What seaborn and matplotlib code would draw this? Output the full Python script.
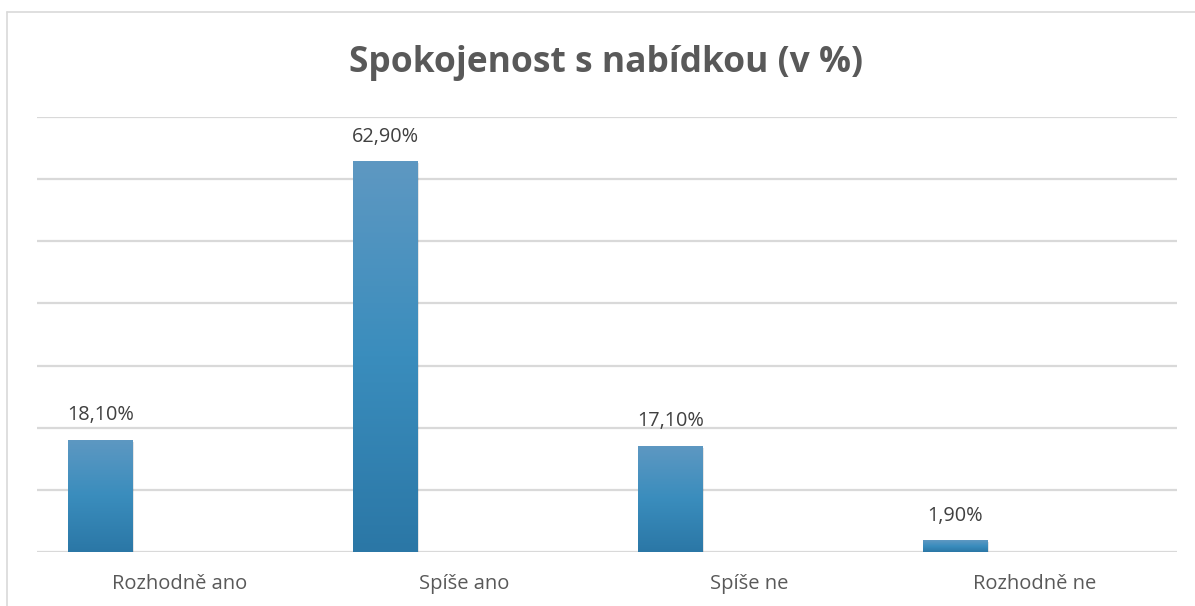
import matplotlib
matplotlib.use("Agg")
import matplotlib.pyplot as plt
import seaborn as sns
import numpy as np
import pandas as pd
from matplotlib.colors import LinearSegmentedColormap

# ~~~~~~~~~  Data  ~~~~~~~~~~~~~~~~~~~~~~~~~~~~~~~~~~~~~~~~~~~~~~~~~~~~~~~~~~~~~~~~~~~~~~~~~~~~ #
categories = ["Rozhodně ano", "Spíše ano", "Spíše ne", "Rozhodně ne"]
values = [18.1, 62.9, 17.1, 1.9]
title = "Spokojenost s nabídkou (v %)"

df = pd.DataFrame({"kategorie": categories, "procenta": values})

# ~~~~~~~~~  Plot  ~~~~~~~~~~~~~~~~~~~~~~~~~~~~~~~~~~~~~~~~~~~~~~~~~~~~~~~~~~~~~~~~~~~~~~~~~~~~ #
sns.set_style("white")
plt.rcParams["font.family"] = ["Open Sans", "DejaVu Sans"]

fig = plt.figure(figsize=(11.95, 6.06), dpi=100)
ax = fig.add_axes([37 / 1195, 1 - 552 / 606, 1140 / 1195, 435 / 606])

bar_w = 0.228     # bar width in category units
shift = -0.277    # bars sit left of the category centre (excel look)
sns.barplot(data=df, x="kategorie", y="procenta", width=bar_w, color="#3a87b5",
            ax=ax, zorder=3)

ax.set_xlim(-0.5, len(categories) - 0.5)
ax.set_ylim(0, 70)
ax.set_yticks(np.arange(0, 71, 10))
ax.yaxis.grid(True, color="#d9d9d9", linewidth=1.6, zorder=0)
ax.set_axisbelow(True)
ax.tick_params(axis="y", left=False, labelleft=False)
ax.tick_params(axis="x", bottom=False, labelsize=14.5, labelcolor="#595959", pad=12)
ax.set_xlabel("")
ax.set_ylabel("")
for s in ax.spines.values():
    s.set_visible(False)

# gradient fill for each bar + value label
cmap = LinearSegmentedColormap.from_list("blu", ["#2b77a6", "#3a8dbd", "#5e98c2"])
grad = np.linspace(0, 1, 256).reshape(-1, 1)
for bar, v in zip(ax.patches, values):
    bar.set_x(bar.get_x() + shift)
    x0, w, h = bar.get_x(), bar.get_width(), bar.get_height()
    bar.set_facecolor("none")
    bar.set_edgecolor("none")
    # light shadow
    ax.add_patch(plt.Rectangle((x0 + 0.002, -0.35), w, h, color="#000000", alpha=0.10,
                               zorder=2, linewidth=0))
    im = ax.imshow(grad, extent=(x0, x0 + w, 0, h), origin="lower", cmap=cmap,
                   aspect="auto", zorder=3)
    im.set_clip_path(bar)
    ax.text(x0 + w / 2, h + 2.3, f"{v:.2f}%".replace(".", ","), ha="center",
            va="bottom", fontsize=14.3, color="#404040")

ax.set_xlim(-0.5, len(categories) - 0.5)
ax.set_ylim(0, 70)

fig.text(606 / 1195, 1 - 63 / 606, title, ha="center", va="center", fontsize=25.5,
         fontweight="bold", color="#595959")

# chart frame (top and left edges visible)
fig.add_artist(plt.Line2D([7 / 1195, 1], [1 - 12 / 606, 1 - 12 / 606], color="#d9d9d9",
                          linewidth=1.2))
fig.add_artist(plt.Line2D([7 / 1195, 7 / 1195], [0, 1 - 12 / 606], color="#d9d9d9",
                          linewidth=1.2))

fig.savefig("out.png", dpi=100, facecolor="white")
